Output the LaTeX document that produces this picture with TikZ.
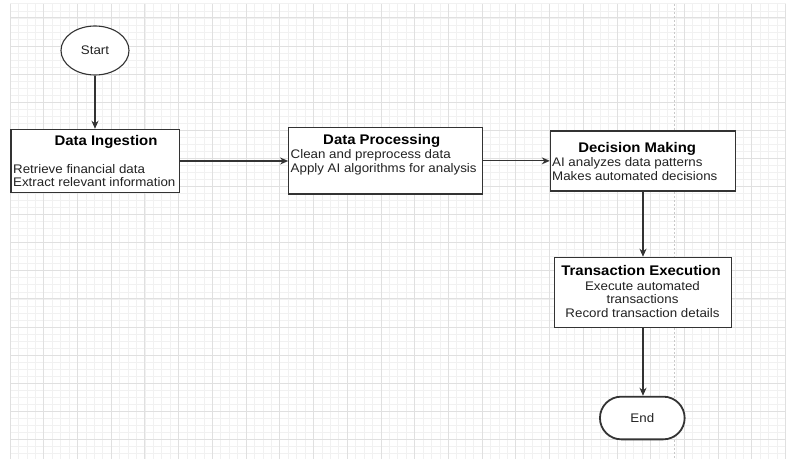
\documentclass[tikz,border=0pt]{standalone}
\usepackage{fontspec}
\setmainfont[FakeStretch=1.07]{Liberation Sans}
\usetikzlibrary{arrows.meta,shapes.geometric,shapes.misc}

\definecolor{edgegray}{HTML}{333333}
\definecolor{gridmajor}{HTML}{E0E0E0}
\definecolor{gridminor}{HTML}{F1F1F1}
\definecolor{pagebreak}{HTML}{C8C8C8}
\definecolor{textdark}{HTML}{222222}

\begin{document}
\begin{tikzpicture}[x=1bp,y=-1bp,
  box/.style={draw=edgegray, line width=1.1bp, fill=white, rectangle, inner sep=0pt},
  titletext/.style={font=\fontsize{14}{16}\selectfont\bfseries, text=black, anchor=base, inner sep=0pt},
  bodyleft/.style={font=\fontsize{12.5}{14}\selectfont, text=textdark, anchor=base west, inner sep=0pt},
  bodymid/.style={font=\fontsize{12.5}{14}\selectfont, text=textdark, anchor=base, inner sep=0pt},
  flow/.style={draw=edgegray, line width=1.2bp, -{Stealth[length=8bp,width=7bp]}},
  minorline/.style={draw=gridminor, line width=0.7bp},
  majorline/.style={draw=gridmajor, line width=0.8bp},
]
\useasboundingbox (0,0) rectangle (786,459);
\fill[white] (0,0) rectangle (786,459);

% background grid: minor lines, then major lines every fourth
\foreach \i in {0,...,92}
  \draw[minorline] ({10+\i*8.43},4) -- ({10+\i*8.43},459);
\foreach \j in {0,...,64}
  \draw[minorline] (10,{3.85+\j*7.025}) -- (786,{3.85+\j*7.025});
\foreach \i in {0,...,23}
  \draw[majorline] ({10+\i*33.72},4) -- ({10+\i*33.72},459);
\foreach \j in {0,...,15}
  \draw[majorline] (10,{17.9+\j*28.1}) -- (786,{17.9+\j*28.1});

% page break marker
\draw[pagebreak, line width=0.9bp, dash pattern=on 2bp off 2bp] (674,4) -- (674,459);

% terminals
\node[ellipse, draw=edgegray, line width=1.1bp, fill=white,
      minimum width=68bp, minimum height=49bp, inner sep=0pt,
      font=\fontsize{12.5}{14}\selectfont, text=textdark] (start) at (95,50.5) {Start};
\node[rounded rectangle, draw=edgegray, line width=1.8bp, fill=white,
      minimum width=84.7bp, minimum height=42.7bp, inner sep=0pt,
      font=\fontsize{12.5}{14}\selectfont, text=textdark] (finish) at (642.3,418) {End};

% process boxes
\node[box, minimum width=168.7bp, minimum height=63.4bp] (ingest) at (95.35,161) {};
\node[box, minimum width=194bp, minimum height=66.3bp] (proc) at (385.7,160.85) {};
\node[box, minimum width=185.4bp, minimum height=60bp] (decide) at (643,161) {};
\node[box, minimum width=177.4bp, minimum height=70bp] (exec) at (643,292.3) {};

% box texts
\node[titletext] (ingestT) at (106,145.7) {Data Ingestion};
\node[bodyleft] (ingestA) at (13,173.5) {Retrieve financial data};
\node[bodyleft] (ingestB) at (13,186.9) {Extract relevant information};

\node[titletext] (procT) at (381.7,144.3) {Data Processing};
\node[bodyleft] (procA) at (290.5,158.8) {Clean and preprocess data};
\node[bodyleft] (procB) at (290.5,172.8) {Apply AI algorithms for analysis};

\node[titletext] (decideT) at (637.2,152.7) {Decision Making};
\node[bodyleft] (decideA) at (552,166.8) {AI analyzes data patterns};
\node[bodyleft] (decideB) at (552,180.2) {Makes automated decisions};

\node[titletext] (execT) at (641,276) {Transaction Execution};
\node[bodymid] (execA) at (642.5,290.2) {Execute automated};
\node[bodymid] (execB) at (642.5,303.8) {transactions};
\node[bodymid] (execC) at (642.5,317.8) {Record transaction details};

% connectors
\draw[flow] (start.south) -- (start.south |- ingest.north);
\draw[flow] (ingest.east) -- (proc.west |- ingest.east);
\draw[flow] (proc.east) -- (decide.west |- proc.east);
\draw[flow] (decide.south) -- (exec.north);
\draw[flow] (exec.south) -- (exec.south |- finish.north);
\end{tikzpicture}
\end{document}
